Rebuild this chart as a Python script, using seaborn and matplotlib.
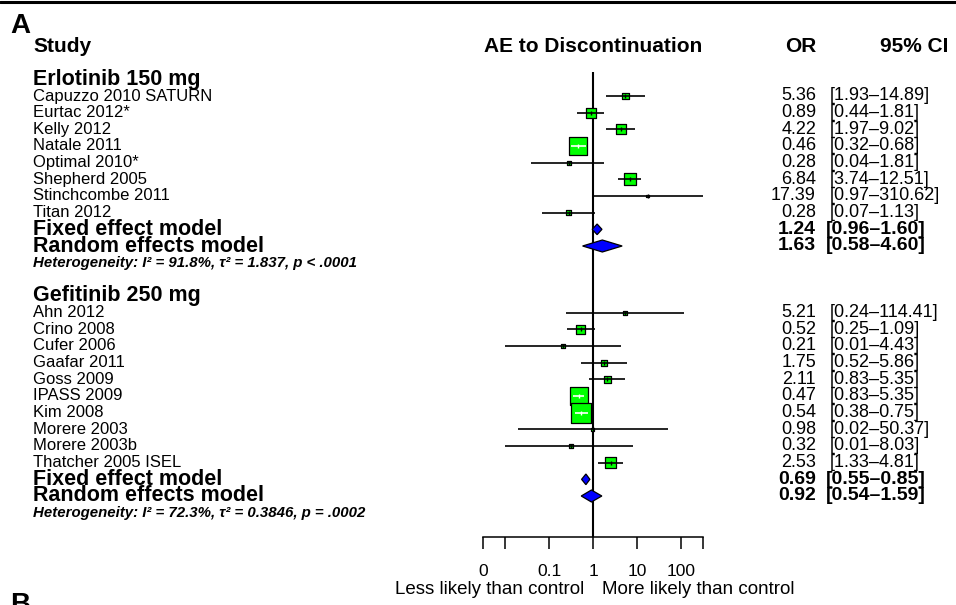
import numpy as np
import pandas as pd
import matplotlib
matplotlib.use("Agg")
import matplotlib.pyplot as plt
import matplotlib.transforms as mtransforms
from matplotlib.lines import Line2D
import seaborn as sns

# study level data
erl_studies = ['Capuzzo 2010 SATURN', 'Eurtac 2012*', 'Kelly 2012', 'Natale 2011',
               'Optimal 2010*', 'Shepherd 2005', 'Stinchcombe 2011', 'Titan 2012']
erl_or = [5.36, 0.89, 4.22, 0.46, 0.28, 6.84, 17.39, 0.28]
erl_lo = [1.93, 0.44, 1.97, 0.32, 0.04, 3.74, 0.97, 0.07]
erl_hi = [14.89, 1.81, 9.02, 0.68, 1.81, 12.51, 310.62, 1.13]
erl_w = [4.9, 10, 10, 32.4, 1.6, 14.4, 0.9, 2.5]
erl_ci_text = ['[1.93\u201314.89]', '[0.44\u20131.81]', '[1.97\u20139.02]', '[0.32\u20130.68]',
               '[0.04\u20131.81]', '[3.74\u201312.51]', '[0.97\u2013310.62]', '[0.07\u20131.13]']
erl_fixed = [1.24, 0.96, 1.60]
erl_random = [1.63, 0.58, 4.60]
erl_het = 'Heterogeneity: I\u00b2 = 91.8%, \u03c4\u00b2 = 1.837, p < .0001'

gef_studies = ['Ahn 2012', 'Crino 2008', 'Cufer 2006', 'Gaafar 2011', 'Goss 2009',
               'IPASS 2009', 'Kim 2008', 'Morere 2003', 'Morere 2003b', 'Thatcher 2005 ISEL']
gef_or = [5.21, 0.52, 0.21, 1.75, 2.11, 0.47, 0.54, 0.98, 0.32, 2.53]
gef_lo = [0.24, 0.25, 0.01, 0.52, 0.83, 0.35, 0.38, 0.02, 0.01, 1.33]
gef_hi = [114.41, 1.09, 4.43, 5.86, 5.35, 0.64, 0.75, 50.37, 8.03, 4.81]
gef_w = [1.6, 8.1, 1.6, 3.6, 4.9, 32.4, 40, 0.9, 1.6, 12.1]
gef_ci_text = ['[0.24\u2013114.41]', '[0.25\u20131.09]', '[0.01\u20134.43]', '[0.52\u20135.86]',
               '[0.83\u20135.35]', '[0.83\u20135.35]', '[0.38\u20130.75]', '[0.02\u201350.37]',
               '[0.01\u20138.03]', '[1.33\u20134.81]']
gef_fixed = [0.69, 0.55, 0.85]
gef_random = [0.92, 0.54, 1.59]
gef_het = 'Heterogeneity: I\u00b2 = 72.3%, \u03c4\u00b2 = 0.3846, p = .0002'

tick_vals = [10 ** -2.5, 0.01, 0.1, 1, 10, 100, 10 ** 2.5]
tick_labels = ['0', '', '0.1', '1', '10', '100', '']

sns.set_theme(style="white")
plt.rcParams['font.family'] = ['Liberation Sans', 'DejaVu Sans']
plt.rcParams['text.color'] = 'black'

# rows: erlotinib block starts at 0, gefitinib block at 13
erl_rows = list(range(0, 8))
gef_rows = list(range(13, 23))
df = pd.DataFrame({
    'study': erl_studies + gef_studies,
    'or': erl_or + gef_or,
    'lo': erl_lo + gef_lo,
    'hi': erl_hi + gef_hi,
    'w': erl_w + gef_w,
    'ci': erl_ci_text + gef_ci_text,
    'row': erl_rows + gef_rows,
})

fig = plt.figure(figsize=(9.56, 6.05), dpi=100)
W, H = 956, 605
ax = fig.add_axes([483 / W, 68 / H, 220 / W, 465 / H])
ax.set_xscale('log')
ax.set_xlim(10 ** -2.5, 10 ** 2.5)
ax.set_ylim(26.46, -1.44)

# reference line at OR = 1
ax.axvline(1, color='black', lw=1.5, zorder=1)

# box side in px ~ 3.16*sqrt(w); px per decade = 44
side_px = 3.16 * np.sqrt(df['w'])
half_dec = side_px / 2 / 44
inside = (np.log10(df['lo']) >= np.log10(df['or']) - half_dec) & \
         (np.log10(df['hi']) <= np.log10(df['or']) + half_dec)

k = (3.16 * 0.72) ** 2
sns.scatterplot(data=df, x='or', y='row', size='w', sizes=(k * df['w'].min(), k * df['w'].max()),
                marker='s', color='#00ff00', edgecolor='black', linewidth=0.9,
                legend=False, ax=ax, zorder=3)
for i, r in df.iterrows():
    c = 'white' if inside[i] else 'black'
    ax.hlines(r['row'], r['lo'], r['hi'], color=c, lw=1.2, zorder=4)
    ax.plot(r['or'], r['row'], marker='|', ms=3.5, mew=1.0, color=c, zorder=4)


def diamond(vals, row, hh):
    est, lo, hi = vals
    ax.fill([lo, est, hi, est], [row, row - hh, row, row + hh],
            facecolor='#0000ff', edgecolor='black', lw=0.9, zorder=3)


diamond(erl_fixed, 8, 0.32)
diamond(erl_random, 9, 0.36)
diamond(gef_fixed, 23, 0.32)
diamond(gef_random, 24, 0.36)

# axis styling
for s in ['top', 'right', 'left']:
    ax.spines[s].set_visible(False)
ax.spines['bottom'].set_color('black')
ax.spines['bottom'].set_linewidth(1.1)
ax.set_xticks(tick_vals)
ax.set_xticklabels(tick_labels)
ax.xaxis.set_minor_locator(matplotlib.ticker.NullLocator())
ax.tick_params(axis='x', bottom=True, direction='out', length=8.6, width=1.1,
               pad=11, labelsize=12.5, colors='black')
ax.set_yticks([])
ax.set_xlabel('')
ax.set_ylabel('')
ax.patch.set_alpha(0)

tr = mtransforms.blended_transform_factory(fig.transFigure, ax.transData)
x_name = 33 / W
x_or = 816 / W
x_ci = 830 / W
x_ci_b = 826 / W


def txt(x, y, s, **kw):
    ax.text(x, y, s, transform=tr, va='center', clip_on=False, color='black', **kw)


# headers
txt(x_name, -3, 'Study', fontsize=15, fontweight='bold')
txt(593 / W, -3, 'AE to Discontinuation', fontsize=15, fontweight='bold', ha='center')
txt(x_or, -3, 'OR', fontsize=15, fontweight='bold', ha='right')
txt(948 / W, -3, '95% CI', fontsize=15, fontweight='bold', ha='right')

txt(x_name, -1, 'Erlotinib 150 mg', fontsize=15.5, fontweight='bold')
txt(x_name, 12, 'Gefitinib 250 mg', fontsize=15.5, fontweight='bold')

for _, r in df.iterrows():
    txt(x_name, r['row'], r['study'], fontsize=12)
    txt(x_or, r['row'], f"{r['or']:.2f}", fontsize=13, ha='right')
    txt(x_ci, r['row'], r['ci'], fontsize=13)

for vals, fr in [(erl_fixed, 8), (gef_fixed, 23)]:
    txt(x_name, fr, 'Fixed effect model', fontsize=15.5, fontweight='bold')
    txt(x_or, fr, f"{vals[0]:.2f}", fontsize=14, fontweight='bold', ha='right')
    txt(x_ci_b, fr, f"[{vals[1]:.2f}\u2013{vals[2]:.2f}]", fontsize=14, fontweight='bold')
for vals, rr in [(erl_random, 9), (gef_random, 24)]:
    txt(x_name, rr, 'Random effects model', fontsize=15.5, fontweight='bold')
    txt(x_or, rr, f"{vals[0]:.2f}", fontsize=14, fontweight='bold', ha='right')
    txt(x_ci_b, rr, f"[{vals[1]:.2f}\u2013{vals[2]:.2f}]", fontsize=14, fontweight='bold')

txt(x_name, 10, erl_het, fontsize=10.8, fontweight='bold', fontstyle='italic')
txt(x_name, 25, gef_het, fontsize=10.8, fontweight='bold', fontstyle='italic')

# labels under the axis
fig.text(584 / W, 1 - 590 / H, 'Less likely than control', ha='right', va='center',
         fontsize=13.5, color='black')
fig.text(602 / W, 1 - 590 / H, 'More likely than control', ha='left', va='center',
         fontsize=13.5, color='black')

# panel letters and top rule
fig.add_artist(Line2D([0, 1], [1 - 1.5 / H, 1 - 1.5 / H], transform=fig.transFigure,
                      color='black', lw=2.2))
fig.text(10 / W, 1 - 33 / H, 'A', fontsize=20, fontweight='bold', va='baseline', color='black')
fig.text(10 / W, 1 - 612 / H, 'B', fontsize=20, fontweight='bold', va='baseline', color='black')

fig.savefig('out.png', dpi=100)
